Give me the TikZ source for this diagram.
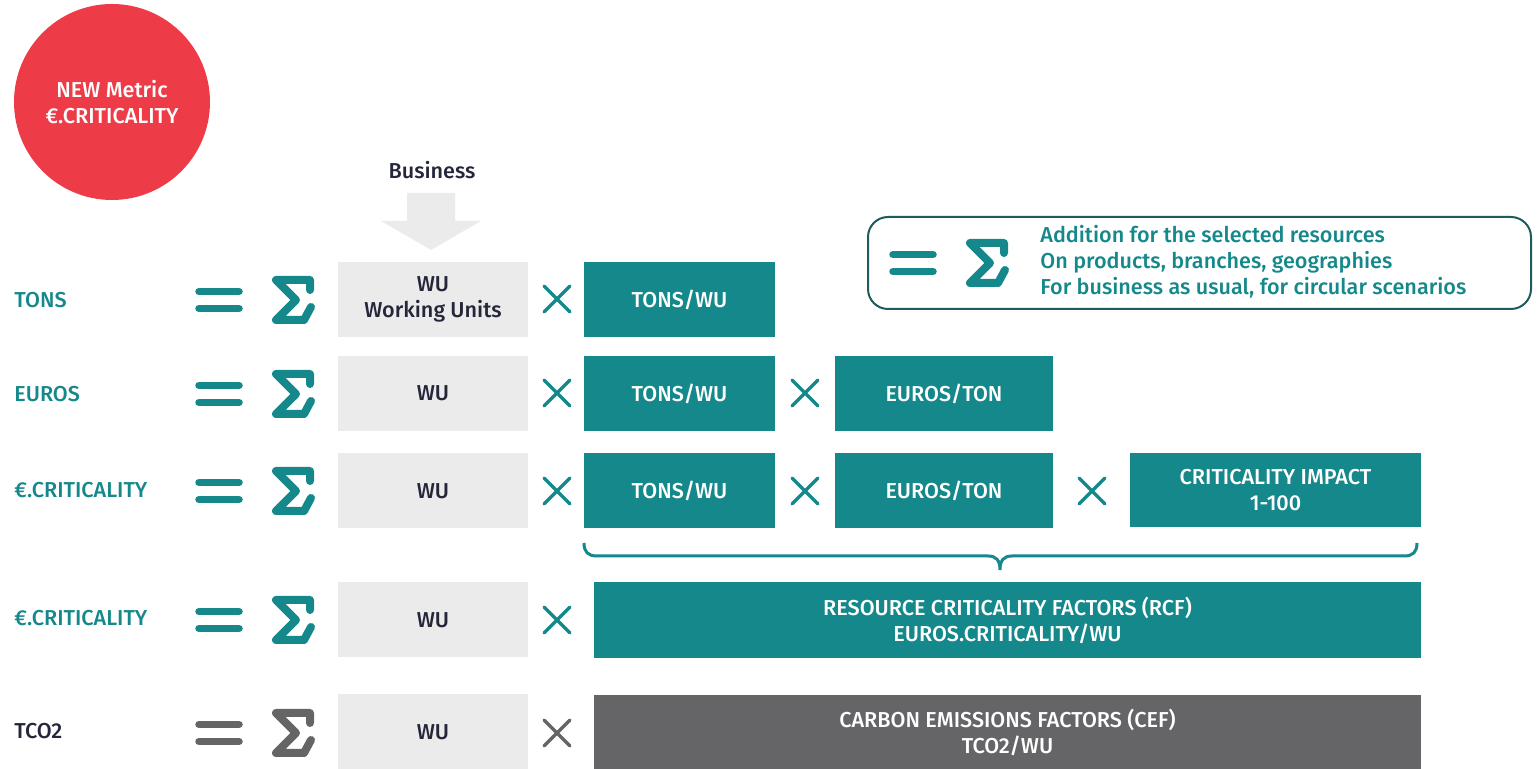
\documentclass[tikz,border=0pt]{standalone}
\usepackage{fontspec}
\setmainfont{Fira Sans Medium}
\definecolor{cteal}{HTML}{14888A}
\definecolor{cgray}{HTML}{EBEBEB}
\definecolor{cdark}{HTML}{656567}
\definecolor{ctext}{HTML}{25263A}
\definecolor{cred}{HTML}{EE3B48}
\definecolor{cborder}{HTML}{1F5A5C}
\tikzset{
	every node/.style={font=\fontsize{10.8}{13}\selectfont},
	graybox/.style={fill=cgray, text=ctext, minimum height=37.5pt, align=center, inner sep=0pt},
	tealbox/.style={fill=cteal, text=white, minimum height=37.5pt, align=center, inner sep=0pt},
	darkbox/.style={fill=cdark, text=white, minimum height=37.5pt, align=center, inner sep=0pt},
	rowlabel/.style={anchor=west, text=cteal, inner sep=0pt},
	eqsign/.pic={
		\draw [line width=3.75pt, line cap=round] (-20,-8.5) -- (20,-8.5) (-20,8.5) -- (20,8.5);
	},
	sigsign/.pic={
		\draw [line width=4pt, line cap=round, line join=round] (16,-10) -- (16,-20) -- (-18,-20) -- (2,0) -- (-18,20) -- (10,20) -- (17,7);
	},
	timessign/.pic={
		\draw [line width=1.75pt, line cap=round] (-13,-13) -- (13,13) (-13,13) -- (13,-13);
	}
}
\begin{document}
\begin{tikzpicture}[x=0.5pt, y=-0.5pt]
	\useasboundingbox (0,0) rectangle (1538,769);
	\node [circle, fill=cred, minimum size=98pt, text=white, align=center] (badge) at (112,102) {NEW Metric\\€.CRITICALITY};
	\node [text=ctext] (business) at (432,170) {Business};
	\fill [cgray] (407,193) -- (455,193) -- (455,221) -- (481,221) -- (431,250) -- (381,221) -- (407,221) -- cycle;

	\node [draw=cborder, line width=1pt, rounded corners=10pt, minimum width=331.5pt, minimum height=46pt] (legend) at (1199.5,263) {};
	\pic [color=cteal] at (913,263) {eqsign};
	\pic [color=cteal] at (988,263) {sigsign};
	\node [anchor=west, text=cteal, align=left, inner sep=0pt] (legendtext) at (1040,261.5) {Addition for the selected resources\\On products, branches, geographies\\For business as usual, for circular scenarios};

	\node [rowlabel] (tons) at (14,300) {TONS};
	\pic [color=cteal] at (219,300) {eqsign};
	\pic [color=cteal] at (294,300) {sigsign};
	\node [graybox, minimum width=95pt] (wu1) at (433,299.5) {WU\\Working Units};
	\pic [color=cteal] at (557,299) {timessign};
	\node [tealbox, minimum width=95.5pt] (tw1) at (679.5,299.5) {TONS/WU};

	\node [rowlabel] (euros) at (14,394) {EUROS};
	\pic [color=cteal] at (219,394) {eqsign};
	\pic [color=cteal] at (294,394) {sigsign};
	\node [graybox, minimum width=95pt] (wu2) at (433,393.5) {WU};
	\pic [color=cteal] at (557,393) {timessign};
	\node [tealbox, minimum width=95.5pt] (tw2) at (679.5,393.5) {TONS/WU};
	\pic [color=cteal] at (805,393) {timessign};
	\node [tealbox, minimum width=109pt] (et2) at (944,393.5) {EUROS/TON};

	\node [rowlabel] (ecrit) at (14,490) {€.CRITICALITY};
	\pic [color=cteal] at (219,491) {eqsign};
	\pic [color=cteal] at (294,491) {sigsign};
	\node [graybox, minimum width=95pt] (wu3) at (433,491) {WU};
	\pic [color=cteal] at (557,491) {timessign};
	\node [tealbox, minimum width=95.5pt] (tw3) at (679.5,491) {TONS/WU};
	\pic [color=cteal] at (805,491) {timessign};
	\node [tealbox, minimum width=109pt] (et3) at (944,491) {EUROS/TON};
	\pic [color=cteal] at (1092,491) {timessign};
	\node [tealbox, minimum width=145.5pt, minimum height=37pt] (ci3) at (1275.5,490) {CRITICALITY IMPACT\\1-100};
	\draw [cteal, line width=1.5pt] (584,543) .. controls (584,552) and (588,556) .. (597,556) -- (988,556) .. controls (996,556) and (1000,560) .. (1000,570) .. controls (1000,560) and (1004,556) .. (1012,556) -- (1404,556) .. controls (1413,556) and (1417,552) .. (1417,543);

	\node [rowlabel] (ecrit2) at (14,618) {€.CRITICALITY};
	\pic [color=cteal] at (219,620) {eqsign};
	\pic [color=cteal] at (294,620) {sigsign};
	\node [graybox, minimum width=95pt] (wu4) at (433,620) {WU};
	\pic [color=cteal] at (557,620) {timessign};
	\node [tealbox, minimum width=413.5pt, minimum height=38pt] (rcf) at (1007.5,620) {RESOURCE CRITICALITY FACTORS (RCF)\\EUROS.CRITICALITY/WU};

	\node [rowlabel, text=ctext] (tco) at (14,731) {TCO2};
	\pic [color=cdark] at (219,733) {eqsign};
	\pic [color=cdark] at (294,733) {sigsign};
	\node [graybox, minimum width=95pt] (wu5) at (433,732) {WU};
	\pic [color=cdark] at (557,733) {timessign};
	\node [darkbox, minimum width=413.5pt, minimum height=37pt] (cef) at (1007.5,732) {CARBON EMISSIONS FACTORS (CEF)\\TCO2/WU};
\end{tikzpicture}
\end{document}
